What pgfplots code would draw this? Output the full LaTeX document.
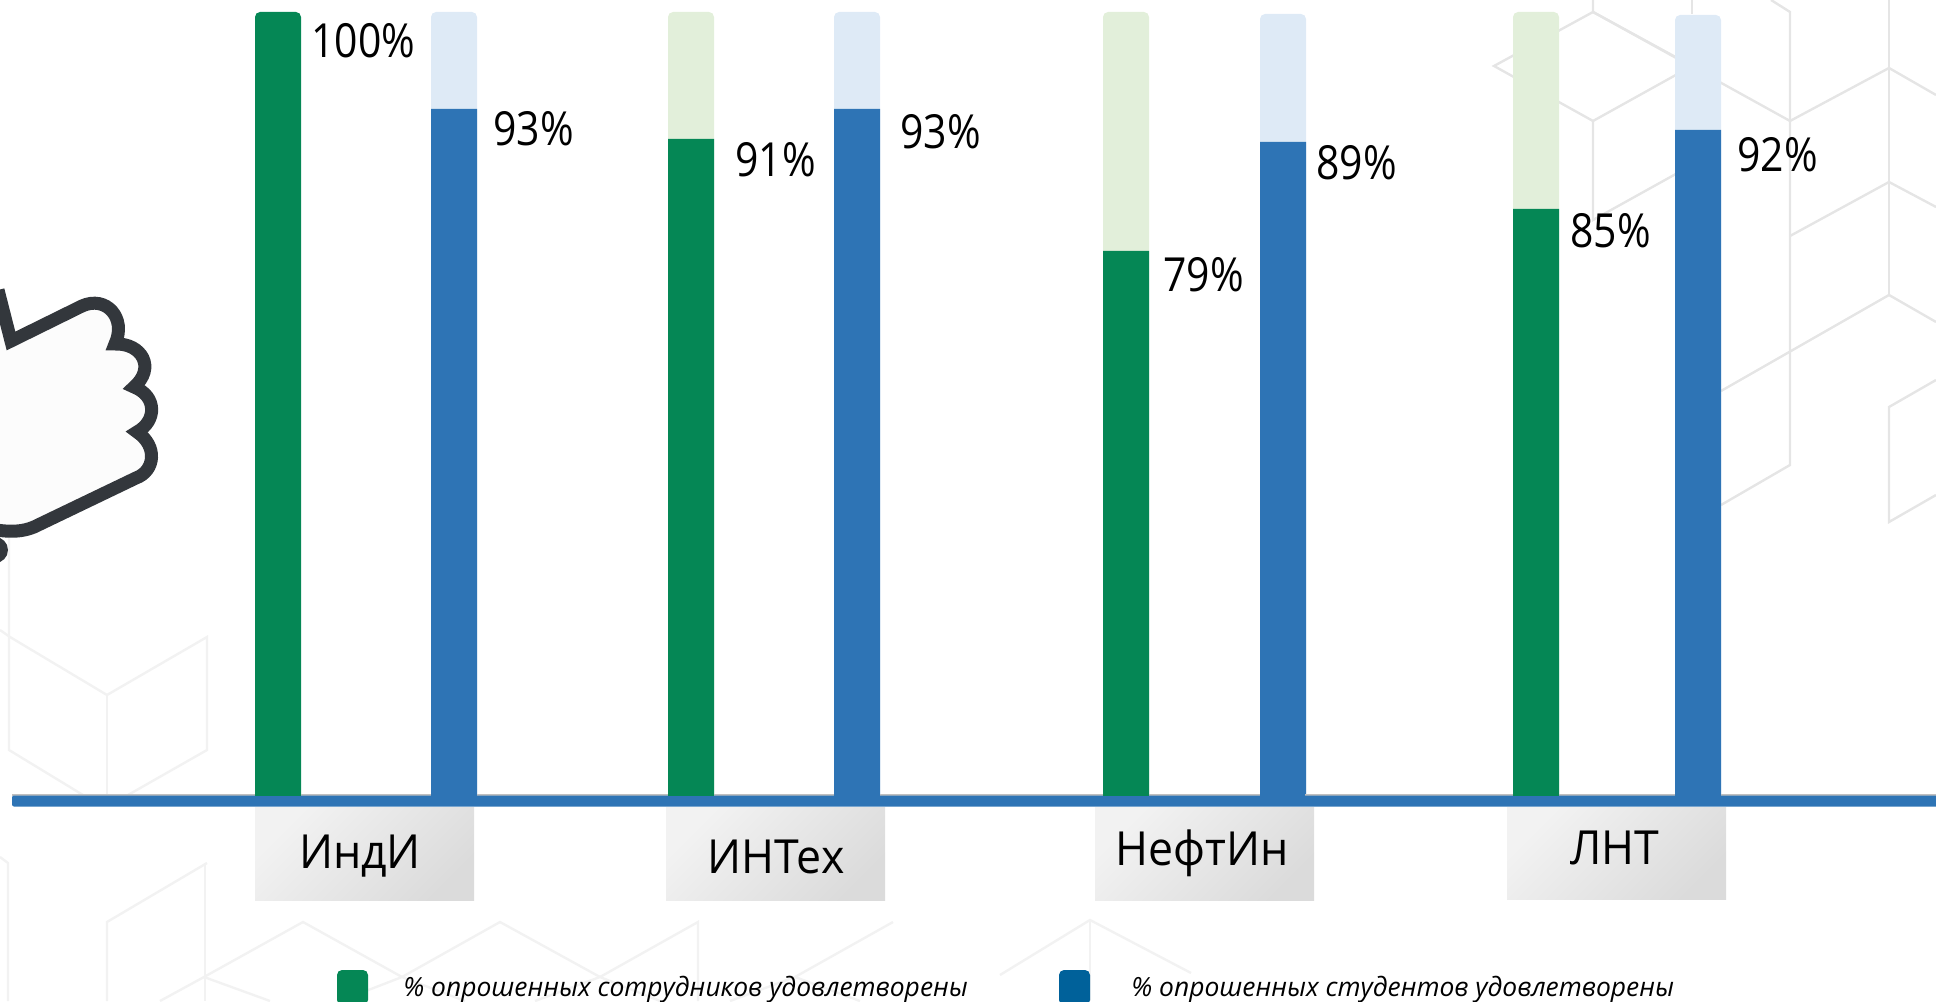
\documentclass[border=0pt]{standalone}
\usepackage{fontspec}
\usepackage{pgfplots}
\pgfplotsset{compat=1.18}
\setmainfont{Open Sans}
\newfontfamily\pctfont[FakeStretch=0.87]{Open Sans}
\newfontfamily\catfont[FakeStretch=0.95]{Open Sans}
\definecolor{solidgreen}{HTML}{058755}
\definecolor{solidblue}{HTML}{2E74B5}
\definecolor{trackgreen}{HTML}{E2EFDA}
\definecolor{trackblue}{HTML}{DEEAF6}
\definecolor{keyblue}{HTML}{00619A}
\definecolor{thumbline}{HTML}{33373C}
\pgfplotsset{
  bar/.style={ybar, bar width=23pt, bar shift=0pt, draw=none, fill=#1},
  textrow/.style={draw=none, mark=none, forget plot, point meta=explicit symbolic, nodes near coords},
}
\begin{document}
\begin{tikzpicture}
\useasboundingbox (0,0) rectangle (968pt,500.5pt);
% backdrop, in pixels of the reference
\begin{scope}[x=0.5pt,y=-0.5pt,yshift=500.5pt]
\clip (0,0) rectangle (1936,1001);
\begin{scope}[draw=black!10,line width=1.2pt]
\draw (1593,0)--(1593,12)--(1494,66)--(1593,121)--(1692,66)--(1593,12);
\draw (1593,121)--(1593,220)--(1692,165);
\draw (1692,0)--(1692,14);
\draw (1771,0)--(1790,12)--(1790,465)--(1721,505);
\draw (1593,12)--(1790,121)--(1889,68)--(1936,95);
\draw (1889,0)--(1889,295);
\draw (1790,236)--(1889,182)--(1936,207);
\draw (1721,391)--(1889,295)--(1936,322);
\draw (1936,380)--(1889,407)--(1889,522)--(1936,495);
\end{scope}
\begin{scope}[draw=black!5,line width=1.2pt]
\draw (9,400)--(9,750)--(83,795);
\draw (0,630)--(10,637)--(107,695)--(207,637)--(207,750)--(128,795);
\draw (107,695)--(107,803);
\draw (0,857)--(8,863)--(8,1001);
\draw (207,863)--(107,922)--(107,1001);
\draw (205,863)--(205,1001);
\draw (160,1001)--(204,977)--(303,922)--(402,977)--(500,922)--(600,977)--(698,922)--(698,1001);
\draw (204,977)--(270,1001);
\draw (340,1001)--(402,977)--(465,1001);
\draw (535,1001)--(600,977)--(660,1001);
\draw (730,1001)--(795,977)--(893,922);
\draw (795,977)--(860,1001);
\draw (1000,975)--(1090,920)--(1191,973);
\draw (1090,920)--(1090,1001);
\end{scope}
% thumb
\fill[thumbline] (-5,550) circle (13);
\draw[thumbline,fill=black!1,line width=6.5pt,line join=miter]
  (-2,290)--(11,341)--(82,306)
  .. controls (106,295) and (127,318) .. (115,344)
  .. controls (142,343) and (156,368) .. (134,387)
  .. controls (157,396) and (157,421) .. (137,432)
  .. controls (158,446) and (155,471) .. (136,478)
  --(34,527) .. controls (22,532) and (10,532) .. (-4,530);
\end{scope}
\begin{axis}[
  at={(0,0)}, anchor=south west, scale only axis,
  width=968pt, height=500.5pt,
  xmin=0, xmax=1936, ymin=-200, ymax=801,
  axis lines=none,
  nodes near coords style={inner sep=0pt, text=black},
]
% category tiles under the axis line, y = 801 - pixel row
\foreach \l/\r/\b in {255/474/-99,666/885/-99,1095/1314/-99,1507/1726/-98}{
  \edef\tmp{\noexpand\shade[left color=black!5,right color=black!14,shading angle=45]
    (axis cs:\l,-6) rectangle (axis cs:\r,\b);}
  \tmp
}
\addplot[bar=trackgreen, rounded corners=2.5pt, forget plot] coordinates
  {(691,789) (1126,789) (1536,789)};
\addplot[bar=trackblue, rounded corners=2.5pt, forget plot] coordinates
  {(454,789) (857,789) (1283,787) (1698,786)};
\addplot[bar=solidgreen, rounded corners=2.5pt] coordinates {(278,789)};
\addplot[bar=solidgreen] coordinates {(691,662) (1126,550) (1536,592)};
\addplot[bar=solidblue] coordinates {(454,692) (857,692) (1283,659) (1698,671)};
% axis line
\draw[black!25,line width=0.5pt] (axis cs:12,6) -- (axis cs:1936,6);
\fill[solidblue,rounded corners=1pt] (axis cs:12,5.5) rectangle (axis cs:1940,-5.5);
\fill[solidblue] (axis cs:431,5.5) rectangle (axis cs:477,7);
\fill[solidblue] (axis cs:834,5.5) rectangle (axis cs:880,7);
\fill[solidblue] (axis cs:1260,5.5) rectangle (axis cs:1305,7);
\fill[solidblue] (axis cs:1675,5.5) rectangle (axis cs:1721,7);
\fill[solidgreen] (axis cs:255,5.5) rectangle (axis cs:301,7);
\fill[solidgreen] (axis cs:668,5.5) rectangle (axis cs:714,7);
\fill[solidgreen] (axis cs:1103,5.5) rectangle (axis cs:1149,7);
\fill[solidgreen] (axis cs:1513,5.5) rectangle (axis cs:1559,7);
% percent labels: left edge and baseline
\addplot[textrow, nodes near coords={\pgfplotspointmeta\%},
  nodes near coords style={anchor=base west, font=\pctfont\fontsize{23.5}{24}\selectfont}]
  table[x=x, y=y, meta=v] {
x y v
311 743 100
493 655 93
735 624 91
900 652 93
1163 509 79
1316 621 89
1570 553 85
1737 629 92
};
% category names
\addplot[textrow, nodes near coords style={anchor=base, font=\catfont\fontsize{23.5}{24}\selectfont}]
  table[x=x, y=y, meta=n] {
x y n
360 -67 ИндИ
776 -72 ИНТех
1202 -64 НефтИн
1615 -63 ЛНТ
};
% legend
\fill[solidgreen,rounded corners=2.5pt] (axis cs:337,-169) rectangle (axis cs:368,-204);
\fill[keyblue,rounded corners=2.5pt] (axis cs:1059,-169) rectangle (axis cs:1090,-204);
\node[anchor=base west,inner sep=0pt,font=\fontsize{13.2}{14}\selectfont\itshape] at (axis cs:403,-195)
  {\% опрошенных сотрудников удовлетворены};
\node[anchor=base west,inner sep=0pt,font=\fontsize{13.2}{14}\selectfont\itshape] at (axis cs:1131,-195)
  {\% опрошенных студентов удовлетворены};
\end{axis}
\end{tikzpicture}
\end{document}
